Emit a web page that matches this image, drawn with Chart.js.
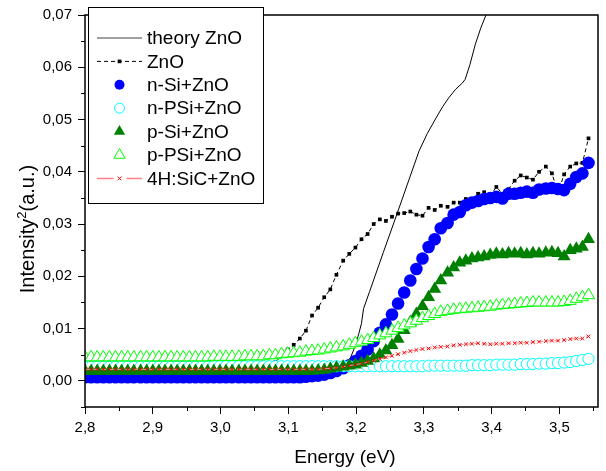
<!DOCTYPE html>
<html>
<head>
<meta charset="utf-8">
<script src="https://cdn.jsdelivr.net/npm/chart.js@4.4.0/dist/chart.umd.min.js"></script>
<style>
html, body { margin: 0; padding: 0; background: #fff; }
</style>
</head>
<body>
<canvas id="chart" width="606" height="471"></canvas>
<script>
const seriesNames = ["theory ZnO", "ZnO", "n-Si+ZnO", "n-PSi+ZnO", "p-Si+ZnO", "p-PSi+ZnO", "4H:SiC+ZnO"];

// theory curve (solid line)
const theoryEnergy = [2.80, 2.90, 3.00, 3.05, 3.10, 3.13, 3.15, 3.165, 3.175, 3.185, 3.192, 3.198, 3.204, 3.208, 3.211,
    3.22, 3.24, 3.26, 3.28, 3.293, 3.305, 3.318, 3.328, 3.337, 3.347, 3.357, 3.361, 3.368, 3.376, 3.384, 3.392, 3.40];
const theoryIntensity = [0.0003, 0.0003, 0.0002, 0.0001, 0.0000, 0.0002, 0.0006, 0.0012, 0.0020, 0.0032, 0.0045, 0.0064, 0.0090, 0.0110, 0.0138,
    0.0171, 0.0245, 0.0318, 0.0392, 0.0440, 0.0473, 0.0503, 0.0525, 0.0542, 0.0558, 0.0570, 0.0577, 0.0605, 0.0644, 0.0675, 0.0701, 0.0730];

// measured energies (eV), shared by the measured series
const energy = [
    2.800, 2.809, 2.818, 2.827, 2.836, 2.845, 2.854, 2.863, 2.872, 2.882,
    2.891, 2.900, 2.909, 2.918, 2.927, 2.936, 2.945, 2.954, 2.963, 2.972,
    2.981, 2.990, 2.999, 3.008, 3.017, 3.027, 3.036, 3.045, 3.054, 3.063,
    3.072, 3.081, 3.090, 3.099, 3.108, 3.117, 3.126, 3.135, 3.144, 3.153,
    3.162, 3.171, 3.181, 3.190, 3.199, 3.208, 3.217, 3.226, 3.235, 3.244,
    3.253, 3.262, 3.271, 3.280, 3.289, 3.298, 3.307, 3.316, 3.325, 3.335,
    3.344, 3.353, 3.362, 3.371, 3.380, 3.389, 3.398, 3.407, 3.416, 3.425,
    3.434, 3.443, 3.452, 3.461, 3.470, 3.480, 3.489, 3.498, 3.507, 3.516,
    3.525, 3.534, 3.543];

const zno = [
    0.0004, 0.0004, 0.0004, 0.0004, 0.0004, 0.0004, 0.0004, 0.0004, 0.0004, 0.0004,
    0.0004, 0.0005, 0.0005, 0.0005, 0.0005, 0.0005, 0.0005, 0.0005, 0.0005, 0.0005,
    0.0005, 0.0007, 0.0007, 0.0007, 0.0007, 0.0007, 0.0010, 0.0013, 0.0017, 0.0022,
    0.0028, 0.0036, 0.0048, 0.0060, 0.0069, 0.0081, 0.0096, 0.0125, 0.0140, 0.0160,
    0.0175, 0.0203, 0.0230, 0.0243, 0.0255, 0.0271, 0.0281, 0.0300, 0.0309, 0.0306,
    0.0314, 0.0320, 0.0321, 0.0324, 0.0318, 0.0316, 0.0331, 0.0327, 0.0335, 0.0333,
    0.0341, 0.0341, 0.0348, 0.0348, 0.0358, 0.0361, 0.0354, 0.0371, 0.0358, 0.0367,
    0.0383, 0.0393, 0.0389, 0.0385, 0.0400, 0.0410, 0.0397, 0.0360, 0.0395, 0.0410,
    0.0416, 0.0417, 0.0464];

const nSi = [
    0.0007, 0.0007, 0.0007, 0.0007, 0.0007, 0.0007, 0.0007, 0.0007, 0.0007, 0.0007,
    0.0007, 0.0007, 0.0007, 0.0007, 0.0007, 0.0007, 0.0007, 0.0007, 0.0007, 0.0007,
    0.0007, 0.0007, 0.0007, 0.0007, 0.0007, 0.0007, 0.0007, 0.0007, 0.0007, 0.0007,
    0.0007, 0.0007, 0.0007, 0.0007, 0.0007, 0.0007, 0.0008, 0.0009, 0.0010, 0.0012,
    0.0015, 0.0019, 0.0024, 0.0030, 0.0038, 0.0048, 0.0060, 0.0076, 0.0092, 0.0108,
    0.0127, 0.0148, 0.0169, 0.0192, 0.0214, 0.0234, 0.0256, 0.0271, 0.0292, 0.0302,
    0.0318, 0.0323, 0.0336, 0.0341, 0.0344, 0.0348, 0.0350, 0.0352, 0.0349, 0.0358,
    0.0358, 0.0360, 0.0362, 0.0360, 0.0366, 0.0368, 0.0369, 0.0367, 0.0365, 0.0377,
    0.0390, 0.0397, 0.0417];

const nPSi = [
    0.0027, 0.0027, 0.0027, 0.0027, 0.0027, 0.0027, 0.0027, 0.0027, 0.0027, 0.0027,
    0.0027, 0.0027, 0.0027, 0.0027, 0.0027, 0.0027, 0.0027, 0.0027, 0.0027, 0.0027,
    0.0027, 0.0028, 0.0028, 0.0028, 0.0028, 0.0028, 0.0028, 0.0028, 0.0028, 0.0028,
    0.0028, 0.0028, 0.0028, 0.0028, 0.0028, 0.0028, 0.0028, 0.0028, 0.0028, 0.0028,
    0.0028, 0.0028, 0.0028, 0.0028, 0.0028, 0.0028, 0.0028, 0.0028, 0.0028, 0.0028,
    0.0028, 0.0028, 0.0028, 0.0028, 0.0028, 0.0028, 0.0029, 0.0029, 0.0029, 0.0029,
    0.0029, 0.0029, 0.0029, 0.0030, 0.0030, 0.0030, 0.0030, 0.0031, 0.0031, 0.0031,
    0.0031, 0.0032, 0.0032, 0.0032, 0.0033, 0.0033, 0.0034, 0.0034, 0.0035, 0.0036,
    0.0038, 0.0040, 0.0042];

const pSi = [
    0.0019, 0.0019, 0.0019, 0.0019, 0.0019, 0.0019, 0.0019, 0.0019, 0.0019, 0.0019,
    0.0019, 0.0019, 0.0019, 0.0019, 0.0019, 0.0019, 0.0019, 0.0019, 0.0019, 0.0019,
    0.0019, 0.0019, 0.0019, 0.0019, 0.0019, 0.0019, 0.0019, 0.0019, 0.0019, 0.0019,
    0.0019, 0.0019, 0.0019, 0.0019, 0.0019, 0.0019, 0.0019, 0.0019, 0.0020, 0.0021,
    0.0023, 0.0025, 0.0027, 0.0029, 0.0031, 0.0034, 0.0038, 0.0043, 0.0050, 0.0058,
    0.0068, 0.0080, 0.0097, 0.0112, 0.0128, 0.0143, 0.0160, 0.0176, 0.0192, 0.0207,
    0.0217, 0.0226, 0.0230, 0.0234, 0.0236, 0.0238, 0.0241, 0.0243, 0.0242, 0.0244,
    0.0243, 0.0244, 0.0242, 0.0244, 0.0243, 0.0245, 0.0246, 0.0244, 0.0238, 0.0250,
    0.0253, 0.0256, 0.0271];

const pPSi = [
    0.0045, 0.0045, 0.0045, 0.0045, 0.0045, 0.0045, 0.0045, 0.0045, 0.0045, 0.0045,
    0.0045, 0.0045, 0.0045, 0.0045, 0.0045, 0.0045, 0.0045, 0.0045, 0.0045, 0.0045,
    0.0045, 0.0046, 0.0046, 0.0046, 0.0046, 0.0046, 0.0047, 0.0047, 0.0047, 0.0047,
    0.0049, 0.0049, 0.0051, 0.0052, 0.0053, 0.0054, 0.0056, 0.0057, 0.0058, 0.0060,
    0.0062, 0.0064, 0.0066, 0.0069, 0.0072, 0.0075, 0.0078, 0.0082, 0.0087, 0.0091,
    0.0096, 0.0101, 0.0106, 0.0110, 0.0115, 0.0120, 0.0124, 0.0128, 0.0132, 0.0134,
    0.0136, 0.0137, 0.0138, 0.0139, 0.0140, 0.0141, 0.0142, 0.0144, 0.0145, 0.0146,
    0.0147, 0.0148, 0.0149, 0.0150, 0.0150, 0.0150, 0.0150, 0.0150, 0.0151, 0.0153,
    0.0157, 0.0160, 0.0164];

const sic = [
    0.0022, 0.0022, 0.0022, 0.0022, 0.0022, 0.0022, 0.0022, 0.0022, 0.0022, 0.0022,
    0.0022, 0.0022, 0.0022, 0.0022, 0.0022, 0.0022, 0.0022, 0.0022, 0.0022, 0.0022,
    0.0022, 0.0022, 0.0022, 0.0022, 0.0022, 0.0022, 0.0022, 0.0022, 0.0022, 0.0022,
    0.0022, 0.0022, 0.0022, 0.0022, 0.0022, 0.0022, 0.0022, 0.0022, 0.0022, 0.0023,
    0.0024, 0.0025, 0.0027, 0.0029, 0.0031, 0.0033, 0.0036, 0.0039, 0.0042, 0.0045,
    0.0048, 0.0051, 0.0054, 0.0057, 0.0059, 0.0061, 0.0062, 0.0064, 0.0065, 0.0066,
    0.0068, 0.0069, 0.0070, 0.0071, 0.0072, 0.0071, 0.0070, 0.0071, 0.0071, 0.0072,
    0.0072, 0.0073, 0.0073, 0.0074, 0.0075, 0.0076, 0.0077, 0.0077, 0.0078, 0.0080,
    0.0081, 0.0081, 0.0085];

// ::::: Ticks :::::
const xTicks = [2.8, 2.9, 3.0, 3.1, 3.2, 3.3, 3.4, 3.5];
const xMinorTicks = [2.85, 2.95, 3.05, 3.15, 3.25, 3.35, 3.45, 3.55];
const yTicks = [0.00, 0.01, 0.02, 0.03, 0.04, 0.05, 0.06, 0.07];
const yMinorTicks = [-0.005, 0.005, 0.015, 0.025, 0.035, 0.045, 0.055, 0.065];

const FONT = "'Liberation Sans', Arial, sans-serif";

function pts(xs, ys) {
    return xs.map((x, i) => ({ x: x, y: ys[i] }));
}

const datasets = [
    {
        label: seriesNames[0], data: pts(theoryEnergy, theoryIntensity), order: 7,
        borderColor: "#000", borderWidth: 1, pointRadius: 0, fill: false
    },
    {
        label: seriesNames[1], data: pts(energy, zno), order: 6,
        borderColor: "#000", borderWidth: 1, borderDash: [4, 3],
        pointStyle: "rect", pointRadius: 2.6, pointBackgroundColor: "#000", pointBorderWidth: 0
    },
    {
        label: seriesNames[2], data: pts(energy, nSi), order: 5, showLine: false,
        pointStyle: "circle", pointRadius: 6.3, pointBackgroundColor: "#0000ff", pointBorderColor: "#0000ff", pointBorderWidth: 0
    },
    {
        label: seriesNames[3], data: pts(energy, nPSi), order: 4, showLine: false,
        pointStyle: "circle", pointRadius: 5.6, pointBackgroundColor: "#fff", pointBorderColor: "#00ffff", pointBorderWidth: 1
    },
    {
        label: seriesNames[4], data: pts(energy, pSi), order: 3, showLine: false,
        pointStyle: "triangle", pointRadius: 7.5, pointBackgroundColor: "#008000", pointBorderColor: "#008000", pointBorderWidth: 0
    },
    {
        label: seriesNames[5], data: pts(energy, pPSi), order: 2, showLine: false,
        pointStyle: "triangle", pointRadius: 7, pointBackgroundColor: "#fff", pointBorderColor: "#00ff00", pointBorderWidth: 1
    },
    {
        label: seriesNames[6], data: pts(energy, sic), order: 1,
        borderColor: "#ff8080", borderWidth: 1, borderDash: [5, 3],
        pointStyle: "crossRot", pointRadius: 2.6, pointBorderColor: "#ff0000", pointBorderWidth: 1
    }
];
datasets.forEach(ds => { ds.clip = 0; ds.tension = 0; });

// legend symbols are a little smaller than the plotted ones
const legendRadius = [0, 2.6, 5, 5, 6.5, 6.5, 2.6];

// ::::: Frame, minor ticks, axis titles and the boxed legend :::::
const decorPlugin = {
    id: "decor",
    afterDraw(chart) {
        const ctx = chart.ctx;
        const a = chart.chartArea;
        const xs = chart.scales.x, ys = chart.scales.y;
        ctx.save();
        ctx.strokeStyle = "#000";
        ctx.lineWidth = 1;
        ctx.beginPath();
        xMinorTicks.forEach(v => {
            const px = Math.round(xs.getPixelForValue(v)) + 0.5;
            ctx.moveTo(px, a.bottom); ctx.lineTo(px, a.bottom + 4);
        });
        yMinorTicks.forEach(v => {
            const py = Math.round(ys.getPixelForValue(v)) + 0.5;
            ctx.moveTo(a.left, py); ctx.lineTo(a.left - 4, py);
        });
        ctx.stroke();

        ctx.lineWidth = 1.5;
        ctx.strokeRect(a.left, a.top, a.right - a.left, a.bottom - a.top);

        // axis titles
        ctx.fillStyle = "#000";
        ctx.font = "19px " + FONT;
        ctx.textAlign = "center";
        ctx.textBaseline = "middle";
        ctx.fillText("Energy (eV)", 345, 458);

        // y title with a real superscript
        ctx.translate(27, 229);
        ctx.rotate(-Math.PI / 2);
        ctx.textAlign = "left";
        ctx.textBaseline = "alphabetic";
        const big = "20px " + FONT, small = "13px " + FONT;
        ctx.font = big;
        const w1 = ctx.measureText("Intensity").width;
        const w3 = ctx.measureText("(a.u.)").width;
        ctx.font = small;
        const w2 = ctx.measureText("2").width;
        let tx = -(w1 + w2 + w3) / 2;
        const base = 7;
        ctx.font = big;
        ctx.fillText("Intensity", tx, base);
        tx += w1;
        ctx.font = small;
        ctx.fillText("2", tx, base - 8);
        tx += w2;
        ctx.font = big;
        ctx.fillText("(a.u.)", tx, base);
        ctx.restore();

        // legend
        ctx.save();
        ctx.fillStyle = "#fff";
        ctx.fillRect(88.5, 7.5, 175, 196);
        ctx.strokeStyle = "#000";
        ctx.lineWidth = 1;
        ctx.strokeRect(88.5, 7.5, 175, 196);
        const x0 = 97, x1 = 142, xm = 119.5;
        chart.data.datasets.forEach((ds, i) => {
            const y = 38 + i * 23.4;
            if (i === 0) {
                ctx.strokeStyle = "#444"; ctx.lineWidth = 1.2; ctx.setLineDash([]);
                ctx.beginPath(); ctx.moveTo(x0, y); ctx.lineTo(x1, y); ctx.stroke();
            } else if (i === 1) {
                ctx.strokeStyle = "#000"; ctx.lineWidth = 1; ctx.setLineDash([4, 3]);
                ctx.beginPath(); ctx.moveTo(x0, y); ctx.lineTo(x1, y); ctx.stroke();
            } else if (i === 6) {
                ctx.strokeStyle = "#ff8080"; ctx.lineWidth = 1.5; ctx.setLineDash([]);
                ctx.beginPath();
                ctx.moveTo(x0, y); ctx.lineTo(xm - 6, y);
                ctx.moveTo(xm + 7, y); ctx.lineTo(x1, y);
                ctx.stroke();
            }
            ctx.setLineDash([]);
            if (legendRadius[i] > 0) {
                ctx.fillStyle = ds.pointBackgroundColor || "#000";
                ctx.strokeStyle = ds.pointBorderColor || "#000";
                ctx.lineWidth = ds.pointBorderWidth;
                Chart.helpers.drawPoint(ctx, {
                    pointStyle: ds.pointStyle, radius: legendRadius[i],
                    rotation: 0, borderWidth: ds.pointBorderWidth
                }, xm, y);
            }
            ctx.fillStyle = "#000";
            ctx.font = "19px " + FONT;
            ctx.textAlign = "left";
            ctx.textBaseline = "middle";
            ctx.fillText(ds.label, 147, y + 1);
        });
        ctx.restore();
    }
};

const ctx = document.getElementById("chart");
const spectraChart = new Chart(ctx, {
    type: "line",
    data: { datasets: datasets },
    options: {
        responsive: false,
        animation: false,
        events: [],
        devicePixelRatio: 1,
        layout: { padding: { top: 13, right: 1, left: 0, bottom: 0 } },
        scales: {
            x: {
                type: "linear",
                min: 2.8,
                max: 3.557,
                afterBuildTicks: (scale) => { scale.ticks = xTicks.map(v => ({ value: v })); },
                afterFit: (scale) => { scale.height = 64; },
                border: { display: false },
                grid: { display: true, drawOnChartArea: false, drawTicks: true, tickLength: 7, color: "#000", lineWidth: 1 },
                ticks: {
                    color: "#000", padding: 5, maxRotation: 0, autoSkip: false,
                    font: { family: FONT, size: 15 },
                    callback: (v) => Number(v).toFixed(1).replace(".", ",")
                }
            },
            y: {
                type: "linear",
                min: -0.005,
                max: 0.07,
                afterBuildTicks: (scale) => { scale.ticks = yTicks.map(v => ({ value: v })); },
                afterFit: (scale) => { scale.width = 85; },
                border: { display: false },
                grid: { display: true, drawOnChartArea: false, drawTicks: true, tickLength: 7, color: "#000", lineWidth: 1 },
                ticks: {
                    color: "#000", padding: 6, autoSkip: false,
                    font: { family: FONT, size: 15 },
                    callback: (v) => Number(v).toFixed(2).replace(".", ",")
                }
            }
        },
        plugins: {
            legend: { display: false },
            tooltip: { enabled: false }
        }
    },
    plugins: [decorPlugin]
});
</script>
</body>
</html>
